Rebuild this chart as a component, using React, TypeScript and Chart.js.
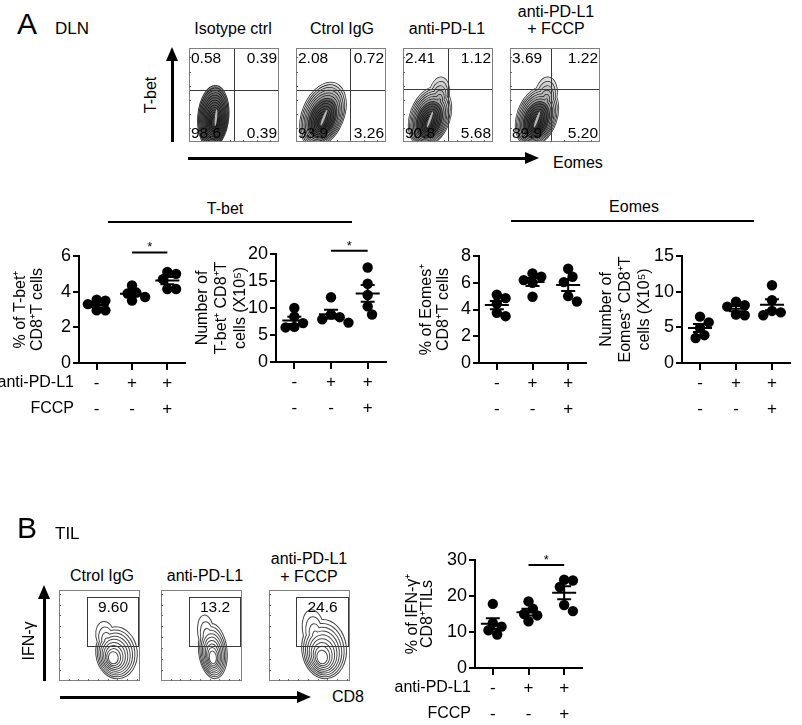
import React, { useEffect, useRef } from 'react';
import { Chart, registerables } from 'chart.js';
Chart.register(...registerables);

const FONT = '"Liberation Sans", Arial, Helvetica, sans-serif';
Chart.defaults.font.family = FONT;
Chart.defaults.color = '#000';

// ---------- DATA ----------
const rowAntiPDL1 = ['-', '+', '+'];
const rowFCCP = ['-', '-', '+'];

// A: T-bet+ % of CD8+ T cells
const tbetPctCtrl = [3.55, 3.5, 3.3, 2.95, 2.95];
const tbetPctPDL1 = [4.35, 3.95, 3.9, 3.7, 3.5];
const tbetPctFCCP = [5.1, 5.0, 4.7, 4.15, 4.15];
// A: number of T-bet+ CD8+ T cells (x10^5)
const tbetNumCtrl = [10.0, 8.4, 7.2, 6.5, 6.4];
const tbetNumPDL1 = [12.0, 8.8, 8.3, 7.9, 7.3];
const tbetNumFCCP = [17.5, 14.5, 12.4, 10.3, 8.8];
// A: Eomes+ % of CD8+ T cells
const eomesPctCtrl = [5.1, 4.85, 4.45, 3.75, 3.5];
const eomesPctPDL1 = [6.7, 6.45, 6.2, 6.0, 4.95];
const eomesPctFCCP = [7.05, 6.45, 6.05, 5.0, 4.6];
// A: number of Eomes+ CD8+ T cells (x10^5)
const eomesNumCtrl = [6.5, 5.7, 4.9, 3.9, 3.5];
const eomesNumPDL1 = [8.6, 8.1, 7.9, 6.8, 6.7];
const eomesNumFCCP = [10.9, 8.8, 7.3, 7.1, 6.7];
// B: IFN-g+ % of CD8+ TILs
const ifngCtrl = [17.8, 12.5, 11.5, 10.5, 9.3];
const ifngPDL1 = [18.5, 16.5, 15.0, 14.6, 13.0];
const ifngFCCP = [24.5, 24.3, 22.5, 17.5, 15.8];

// Flow plots, DLN (quadrant percentages)
const dlnTitles = [['Isotype ctrl'], ['Ctrol IgG'], ['anti-PD-L1'], ['anti-PD-L1', '+ FCCP']];
const dlnUL = [0.58, 2.08, 2.41, 3.69];
const dlnUR = [0.39, 0.72, 1.12, 1.22];
const dlnLL = [98.6, 93.9, 90.8, 89.9];
const dlnLR = [0.39, 3.26, 5.68, 5.2];
const dlnGateX = [50, 60, 50, 46];
const dlnGateY = [55, 55, 56, 56];
// contour shapes: core [cx, cy], outer [cx, cy, rx, ry, tilt], upper lobe [cx, cy, rx, ry]
const dlnCore = [[28, 20], [29, 20], [28, 18], [28, 18]];
const dlnOuter = [[27, 27, 17, 33, 5], [30, 29, 23, 36, 22], [30, 27, 22, 33, 20], [30, 27, 22, 33, 20]];
const dlnLobe = [[28, 40, 0, 0], [37, 46, 10, 17], [40, 50, 11, 19], [40, 50, 12, 19]];

// Flow plots, TIL (gate percentages)
const tilTitles = [['Ctrol IgG'], ['anti-PD-L1'], ['anti-PD-L1', '+ FCCP']];
const tilGate = [9.6, 13.2, 24.6];
const tilGateX0 = [34.5, 34.5, 33.5];
const tilCore = [[66, 24], [64, 24], [65, 24]];
const tilOuter = [[71, 31, 25, 28], [64, 33, 17, 30], [68, 35, 27, 32]];
const tilLobe = [[57, 50, 11, 15], [56, 52, 10, 20], [55, 56, 13, 22]];

const fmt = (v: number) => (v >= 10 ? v.toFixed(1) : v.toFixed(2));

// ---------- HELPERS ----------
function swarm(values: number[], group: number, pxY: number, pxX: number, diam: number) {
  const order = values.map((_, i) => i).sort((a, b) => values[b] - values[a]);
  const placed: { x: number; y: number }[] = [];
  const out: { x: number; y: number }[] = new Array(values.length);
  for (const i of order) {
    const y = values[i] * pxY;
    let best = 0;
    for (let k = 0; k < 30; k++) {
      const cand = k === 0 ? 0 : (k % 2 ? 1 : -1) * Math.ceil(k / 2) * diam * 0.42;
      if (placed.every((p) => Math.hypot(p.x - cand, p.y - y) >= diam * 0.78)) {
        best = cand;
        break;
      }
    }
    placed.push({ x: best, y });
    out[i] = { x: group + best / pxX, y: values[i] };
  }
  return out;
}

function Txt({ x, y, children, size = 16, align = 'center', rotate = false }: any) {
  let transform = align === 'center' ? 'translate(-50%,-50%)' : align === 'left' ? 'translate(0,-50%)' : 'translate(-100%,-50%)';
  if (rotate) transform = 'translate(-50%,-50%) rotate(-90deg)';
  return (
    <div style={{ position: 'absolute', left: x, top: y, transform, fontSize: size, lineHeight: 1, whiteSpace: 'nowrap', fontFamily: FONT, color: '#000' }}>
      {children}
    </div>
  );
}

function HLine({ x1, x2, y, w = 2 }: any) {
  return <div style={{ position: 'absolute', left: x1, top: y - w / 2, width: x2 - x1, height: w, background: '#000' }} />;
}

function VArrow({ x, y1, y2 }: any) {
  return (
    <>
      <div style={{ position: 'absolute', left: x - 1.5, top: y2 + 10, width: 3, height: y1 - y2 - 10, background: '#000' }} />
      <div style={{ position: 'absolute', left: x - 6, top: y2, width: 0, height: 0, borderLeft: '6px solid transparent', borderRight: '6px solid transparent', borderBottom: '14px solid #000' }} />
    </>
  );
}

function HArrow({ y, x1, x2 }: any) {
  return (
    <>
      <div style={{ position: 'absolute', left: x1, top: y - 1.5, width: x2 - x1 - 10, height: 3, background: '#000' }} />
      <div style={{ position: 'absolute', left: x2 - 14, top: y - 6, width: 0, height: 0, borderTop: '6px solid transparent', borderBottom: '6px solid transparent', borderLeft: '14px solid #000' }} />
    </>
  );
}

function ChartBox({ left, top, width, height, make }: any) {
  const ref = useRef<HTMLCanvasElement>(null);
  useEffect(() => {
    const chart = new Chart(ref.current as HTMLCanvasElement, make());
    return () => chart.destroy();
  }, []);
  return <canvas ref={ref} width={width} height={height} style={{ position: 'absolute', left, top, width, height }} />;
}

// ---------- DOT PLOT ----------
function dotConfig(p: any) {
  const yScaleWidth = p.axisX - p.left;
  const padTop = p.axisTopY - p.top;
  const xScaleHeight = p.top + p.height - p.axisY;
  const padRight = p.left + p.width - p.axisRight;
  const lh = p.titleLine;
  const titlePad = p.titleX - p.left - lh / 2;
  const pxY = (p.axisY - p.axisTopY) / p.yMax;
  const pxX = (p.axisRight - p.axisX) / 3;
  const pts = p.groups.flatMap((g: number[], gi: number) => swarm(g, gi + 1, pxY, pxX, 10.4));
  const groups = p.groups;
  const sig = p.sig;
  const meanSem = {
    id: 'meanSem',
    afterDatasetsDraw(chart: any) {
      const { ctx, scales } = chart;
      const xs = scales.x, ys = scales.y;
      ctx.save();
      ctx.strokeStyle = '#000';
      ctx.lineWidth = 2;
      groups.forEach((vals: number[], gi: number) => {
        const n = vals.length;
        const m = vals.reduce((a, b) => a + b, 0) / n;
        const sd = Math.sqrt(vals.reduce((a, b) => a + (b - m) * (b - m), 0) / (n - 1));
        const sem = sd / Math.sqrt(n);
        const cx = xs.getPixelForValue(gi + 1);
        const ym = ys.getPixelForValue(m);
        const yt = ys.getPixelForValue(m + sem);
        const yb = ys.getPixelForValue(m - sem);
        ctx.beginPath();
        ctx.moveTo(cx - 12, ym); ctx.lineTo(cx + 12, ym);
        ctx.moveTo(cx, yt); ctx.lineTo(cx, yb);
        ctx.moveTo(cx - 7, yt); ctx.lineTo(cx + 7, yt);
        ctx.moveTo(cx - 7, yb); ctx.lineTo(cx + 7, yb);
        ctx.stroke();
      });
      if (sig) {
        const xa = xs.getPixelForValue(sig[0]);
        const xb = xs.getPixelForValue(sig[1]);
        const yy = ys.getPixelForValue(sig[2]);
        ctx.beginPath();
        ctx.moveTo(xa, yy); ctx.lineTo(xb, yy);
        ctx.stroke();
        ctx.fillStyle = '#000';
        ctx.font = `13px ${FONT}`;
        ctx.textAlign = 'center';
        ctx.textBaseline = 'alphabetic';
        ctx.fillText('*', (xa + xb) / 2, yy - 1);
      }
      ctx.restore();
    },
  };
  return {
    type: 'scatter',
    data: { datasets: [{ data: pts, pointRadius: 5.2, pointHoverRadius: 5.2, backgroundColor: '#000', borderWidth: 0, clip: false }] },
    options: {
      animation: false,
      responsive: false,
      devicePixelRatio: 1,
      events: [],
      layout: { padding: { left: 0, top: padTop, right: padRight, bottom: 0 } },
      plugins: { legend: { display: false }, tooltip: { enabled: false } },
      scales: {
        x: {
          type: 'linear',
          min: 0.5,
          max: 3.5,
          afterBuildTicks: (s: any) => { s.ticks = [1, 2, 3].map((v) => ({ value: v })); },
          afterFit: (s: any) => { s.height = xScaleHeight; },
          grid: { display: true, drawOnChartArea: false, drawTicks: true, tickLength: 7, color: '#000', lineWidth: 2 },
          border: { display: true, color: '#000', width: 2 },
          ticks: {
            color: '#000',
            font: { size: 17, lineHeight: 26 / 17 },
            padding: 0,
            maxRotation: 0,
            autoSkip: false,
            callback: (v: any) => {
              const i = Math.round(Number(v)) - 1;
              return [rowAntiPDL1[i], rowFCCP[i]];
            },
          },
        },
        y: {
          type: 'linear',
          min: 0,
          max: p.yMax,
          afterFit: (s: any) => { s.width = yScaleWidth; },
          ticks: { stepSize: p.yStep, color: '#000', font: { size: 18 }, padding: 2 },
          grid: { display: true, drawOnChartArea: false, drawTicks: true, tickLength: 6, color: '#000', lineWidth: 2 },
          border: { display: true, color: '#000', width: 2 },
          title: { display: true, text: p.title, color: '#000', font: { size: 16, lineHeight: lh / 16 }, padding: { top: titlePad, bottom: 0 } },
        },
      },
    },
    plugins: [meanSem],
  };
}

// ---------- FLOW PLOTS ----------
function ellipsePath(ctx: any, xs: any, ys: any, cx: number, cy: number, rx: number, ry: number, tilt: number) {
  const px = xs.getPixelForValue(cx);
  const py = ys.getPixelForValue(cy);
  const rpx = Math.max(0.1, xs.getPixelForValue(cx + rx) - px);
  const rpy = Math.max(0.1, py - ys.getPixelForValue(cy + ry));
  const th = (tilt * Math.PI) / 180;
  ctx.moveTo(px + rpx * Math.cos(th), py + rpx * Math.sin(th));
  ctx.ellipse(px, py, rpx, rpy, th, 0, Math.PI * 2);
}

function flowBase(draw: (chart: any) => void) {
  return {
    type: 'scatter',
    data: { datasets: [{ data: [] as any[] }] },
    options: {
      animation: false,
      responsive: false,
      devicePixelRatio: 1,
      events: [],
      layout: { padding: { left: 1, top: 1, right: 1, bottom: 1 } },
      plugins: { legend: { display: false }, tooltip: { enabled: false } },
      scales: {
        x: { type: 'linear', min: 0, max: 100, display: false },
        y: { type: 'linear', min: 0, max: 100, display: false },
      },
    },
    plugins: [{ id: 'flow', afterDraw: draw }],
  };
}

function frame(ctx: any, a: any, xs: any, ys: any, step: number) {
  ctx.strokeStyle = '#808080';
  ctx.lineWidth = 1;
  ctx.strokeRect(a.left + 0.5, a.top + 0.5, a.right - a.left - 1, a.bottom - a.top - 1);
  ctx.strokeStyle = '#666';
  ctx.beginPath();
  for (let v = step; v < 100; v += step) {
    const tx = Math.round(xs.getPixelForValue(v)) + 0.5;
    ctx.moveTo(tx, a.bottom); ctx.lineTo(tx, a.bottom - 2);
    const ty = Math.round(ys.getPixelForValue(v)) + 0.5;
    ctx.moveTo(a.left, ty); ctx.lineTo(a.left + 2, ty);
  }
  ctx.stroke();
}

function dlnConfig(i: number) {
  return flowBase((chart: any) => {
    const { ctx, chartArea: a, scales } = chart;
    const xs = scales.x, ys = scales.y;
    ctx.save();
    ctx.beginPath();
    ctx.rect(a.left, a.top, a.right - a.left, a.bottom - a.top);
    ctx.clip();
    const [c0x, c0y] = dlnCore[i];
    const [ox, oy, rx, ry, tilt] = dlnOuter[i];
    const [lx, ly, lrx, lry] = dlnLobe[i];
    const N = 14;
    for (let k = N; k >= 1; k--) {
      const t = 0.08 + 0.92 * (k / N);
      const lt = Math.max(0, (t - 0.62) / 0.38);
      ctx.beginPath();
      ellipsePath(ctx, xs, ys, c0x + (ox - c0x) * t, c0y + (oy - c0y) * t, rx * t, ry * t, tilt);
      const hasLobe = lt > 0 && lrx > 0;
      if (hasLobe) ellipsePath(ctx, xs, ys, lx, ly - (1 - lt) * 8, lrx * lt, lry * lt, tilt * 0.5);
      const g = hasLobe ? Math.round(150 + 70 * lt) : Math.round(45 + 75 * t);
      ctx.lineWidth = 1.4;
      ctx.strokeStyle = 'rgba(15,15,15,0.9)';
      ctx.stroke();
      ctx.fillStyle = `rgb(${g},${g},${g})`;
      ctx.fill();
    }
    // lighter streak in the core
    ctx.beginPath();
    ellipsePath(ctx, xs, ys, c0x + 2, c0y + 6, 1.3, 9, tilt);
    ctx.fillStyle = 'rgba(230,230,230,0.75)';
    ctx.fill();
    ctx.restore();

    ctx.save();
    ctx.strokeStyle = '#3a3a3a';
    ctx.lineWidth = 1;
    const gx = Math.round(xs.getPixelForValue(dlnGateX[i])) + 0.5;
    const gy = Math.round(ys.getPixelForValue(dlnGateY[i])) + 0.5;
    ctx.beginPath();
    ctx.moveTo(gx, a.top); ctx.lineTo(gx, a.bottom);
    ctx.moveTo(a.left, gy); ctx.lineTo(a.right, gy);
    ctx.stroke();
    frame(ctx, a, xs, ys, 15);
    ctx.fillStyle = '#000';
    ctx.font = `15.5px ${FONT}`;
    ctx.textBaseline = 'alphabetic';
    ctx.textAlign = 'left';
    ctx.fillText(fmt(dlnUL[i]), a.left + 2, a.top + 14.5);
    ctx.fillText(fmt(dlnLL[i]), a.left + 2, a.bottom - 4);
    ctx.textAlign = 'right';
    ctx.fillText(fmt(dlnUR[i]), a.right - 2, a.top + 14.5);
    ctx.fillText(fmt(dlnLR[i]), a.right - 2, a.bottom - 4);
    ctx.restore();
  });
}

function tilConfig(i: number) {
  return flowBase((chart: any) => {
    const { ctx, chartArea: a, scales } = chart;
    const xs = scales.x, ys = scales.y;
    ctx.save();
    ctx.beginPath();
    ctx.rect(a.left, a.top, a.right - a.left, a.bottom - a.top);
    ctx.clip();
    const [c0x, c0y] = tilCore[i];
    const [ox, oy, rx, ry] = tilOuter[i];
    const [lx, ly, lrx, lry] = tilLobe[i];
    const N = 9;
    for (let k = N; k >= 1; k--) {
      const t = 0.12 + 0.88 * (k / N);
      const lt = Math.max(0, (t - 0.6) / 0.4);
      ctx.beginPath();
      ellipsePath(ctx, xs, ys, c0x + (ox - c0x) * t, c0y + (oy - c0y) * t, rx * t, ry * t, -6);
      if (lt > 0) ellipsePath(ctx, xs, ys, lx + (1 - lt) * 4, ly - (1 - lt) * 10, lrx * lt, lry * lt, -8);
      ctx.lineWidth = 2;
      ctx.strokeStyle = '#4a4a4a';
      ctx.stroke();
      ctx.fillStyle = '#fff';
      ctx.fill();
    }
    ctx.restore();

    ctx.save();
    ctx.strokeStyle = '#3a3a3a';
    ctx.lineWidth = 1;
    const gx0 = Math.round(xs.getPixelForValue(tilGateX0[i])) + 0.5;
    const gx1 = Math.round(xs.getPixelForValue(99)) - 0.5;
    const gy0 = Math.round(ys.getPixelForValue(92)) + 0.5;
    const gy1 = Math.round(ys.getPixelForValue(38.5)) + 0.5;
    ctx.strokeRect(gx0, gy0, gx1 - gx0, gy1 - gy0);
    frame(ctx, a, xs, ys, 12);
    ctx.fillStyle = '#000';
    ctx.font = `15.5px ${FONT}`;
    ctx.textAlign = 'center';
    ctx.textBaseline = 'alphabetic';
    ctx.fillText(fmt(tilGate[i]), (gx0 + gx1) / 2, gy0 + 14);
    ctx.restore();
  });
}

// ---------- LAYOUT ----------
const panels = [
  { left: 0, top: 236, width: 195, height: 184, axisX: 79, axisTopY: 256, axisY: 363, axisRight: 185, yMax: 6, yStep: 2,
    groups: [tbetPctCtrl, tbetPctPDL1, tbetPctFCCP], title: ['% of T-bet⁺', 'CD8⁺T cells'], titleLine: 17, titleX: 21, sig: [2, 3, 6.2] },
  { left: 190, top: 234, width: 206, height: 186, axisX: 276, axisTopY: 254, axisY: 362, axisRight: 386, yMax: 20, yStep: 5,
    groups: [tbetNumCtrl, tbetNumPDL1, tbetNumFCCP], title: ['Number of', 'T-bet⁺ CD8⁺T', 'cells (X10⁵)'], titleLine: 19, titleX: 203, sig: [2, 3, 20.6] },
  { left: 405, top: 236, width: 191, height: 184, axisX: 479, axisTopY: 256, axisY: 363, axisRight: 586, yMax: 8, yStep: 2,
    groups: [eomesPctCtrl, eomesPctPDL1, eomesPctFCCP], title: ['% of Eomes⁺', 'CD8⁺T cells'], titleLine: 17, titleX: 427 },
  { left: 592, top: 236, width: 208, height: 184, axisX: 682, axisTopY: 256, axisY: 363, axisRight: 790, yMax: 15, yStep: 5,
    groups: [eomesNumCtrl, eomesNumPDL1, eomesNumFCCP], title: ['Number of', 'Eomes⁺ CD8⁺T', 'cells (X10⁵)'], titleLine: 19, titleX: 607 },
  { left: 398, top: 540, width: 194, height: 185, axisX: 475, axisTopY: 560, axisY: 668, axisRight: 582, yMax: 30, yStep: 10,
    groups: [ifngCtrl, ifngPDL1, ifngFCCP], title: ['% of IFN-γ⁺', 'CD8⁺TILs'], titleLine: 15, titleX: 413, sig: [2, 3, 28.6] },
];

const dlnBoxes = [189, 296, 403, 510];
const dlnTitleX = [233, 342, 447, 556];
const tilBoxes = [59, 161, 269];
const tilTitleX = [102, 205, 309];

export default function App() {
  return (
    <div style={{ position: 'absolute', left: 0, top: 0, width: 802, height: 725, background: '#fff', fontFamily: FONT, overflow: 'hidden' }}>
      <Txt x={17} y={24} size={30} align="left">A</Txt>
      <Txt x={55} y={28} size={17} align="left">DLN</Txt>

      {dlnBoxes.map((bx, i) => (
        <ChartBox key={'d' + i} left={bx - 1} top={47} width={92} height={96} make={() => dlnConfig(i)} />
      ))}
      {dlnTitles.map((lines, i) =>
        lines.length === 1 ? (
          <Txt key={'dt' + i} x={dlnTitleX[i]} y={29} size={16}>{lines[0]}</Txt>
        ) : (
          <React.Fragment key={'dt' + i}>
            <Txt x={dlnTitleX[i]} y={12} size={16}>{lines[0]}</Txt>
            <Txt x={dlnTitleX[i]} y={29} size={16}>{lines[1]}</Txt>
          </React.Fragment>
        )
      )}
      <VArrow x={172} y1={142} y2={47} />
      <Txt x={151} y={95} size={16} rotate>T-bet</Txt>
      <HArrow y={158} x1={188} x2={539} />
      <Txt x={553} y={163} size={16} align="left">Eomes</Txt>

      <Txt x={225} y={209} size={16}>T-bet</Txt>
      <HLine x1={108} x2={352} y={222} />
      <Txt x={634} y={207} size={16}>Eomes</Txt>
      <HLine x1={511} x2={754} y={221} />

      {panels.map((p, i) => (
        <ChartBox key={'p' + i} left={p.left} top={p.top} width={p.width} height={p.height} make={() => dotConfig(p)} />
      ))}

      <Txt x={74} y={382} size={16} align="right">anti-PD-L1</Txt>
      <Txt x={74} y={408} size={16} align="right">FCCP</Txt>

      <Txt x={17} y={528} size={30} align="left">B</Txt>
      <Txt x={55} y={533} size={17} align="left">TIL</Txt>
      {tilBoxes.map((bx, i) => (
        <ChartBox key={'t' + i} left={bx - 1} top={589} width={83} height={93} make={() => tilConfig(i)} />
      ))}
      {tilTitles.map((lines, i) =>
        lines.length === 1 ? (
          <Txt key={'tt' + i} x={tilTitleX[i]} y={576} size={16}>{lines[0]}</Txt>
        ) : (
          <React.Fragment key={'tt' + i}>
            <Txt x={tilTitleX[i]} y={559} size={16}>{lines[0]}</Txt>
            <Txt x={tilTitleX[i]} y={577} size={16}>{lines[1]}</Txt>
          </React.Fragment>
        )
      )}
      <VArrow x={44} y1={681} y2={585} />
      <Txt x={29} y={641} size={16} rotate>IFN-γ</Txt>
      <HArrow y={697} x1={60} x2={311} />
      <Txt x={332} y={697} size={16} align="left">CD8</Txt>

      <Txt x={471} y={687} size={16} align="right">anti-PD-L1</Txt>
      <Txt x={471} y={713} size={16} align="right">FCCP</Txt>
    </div>
  );
}
